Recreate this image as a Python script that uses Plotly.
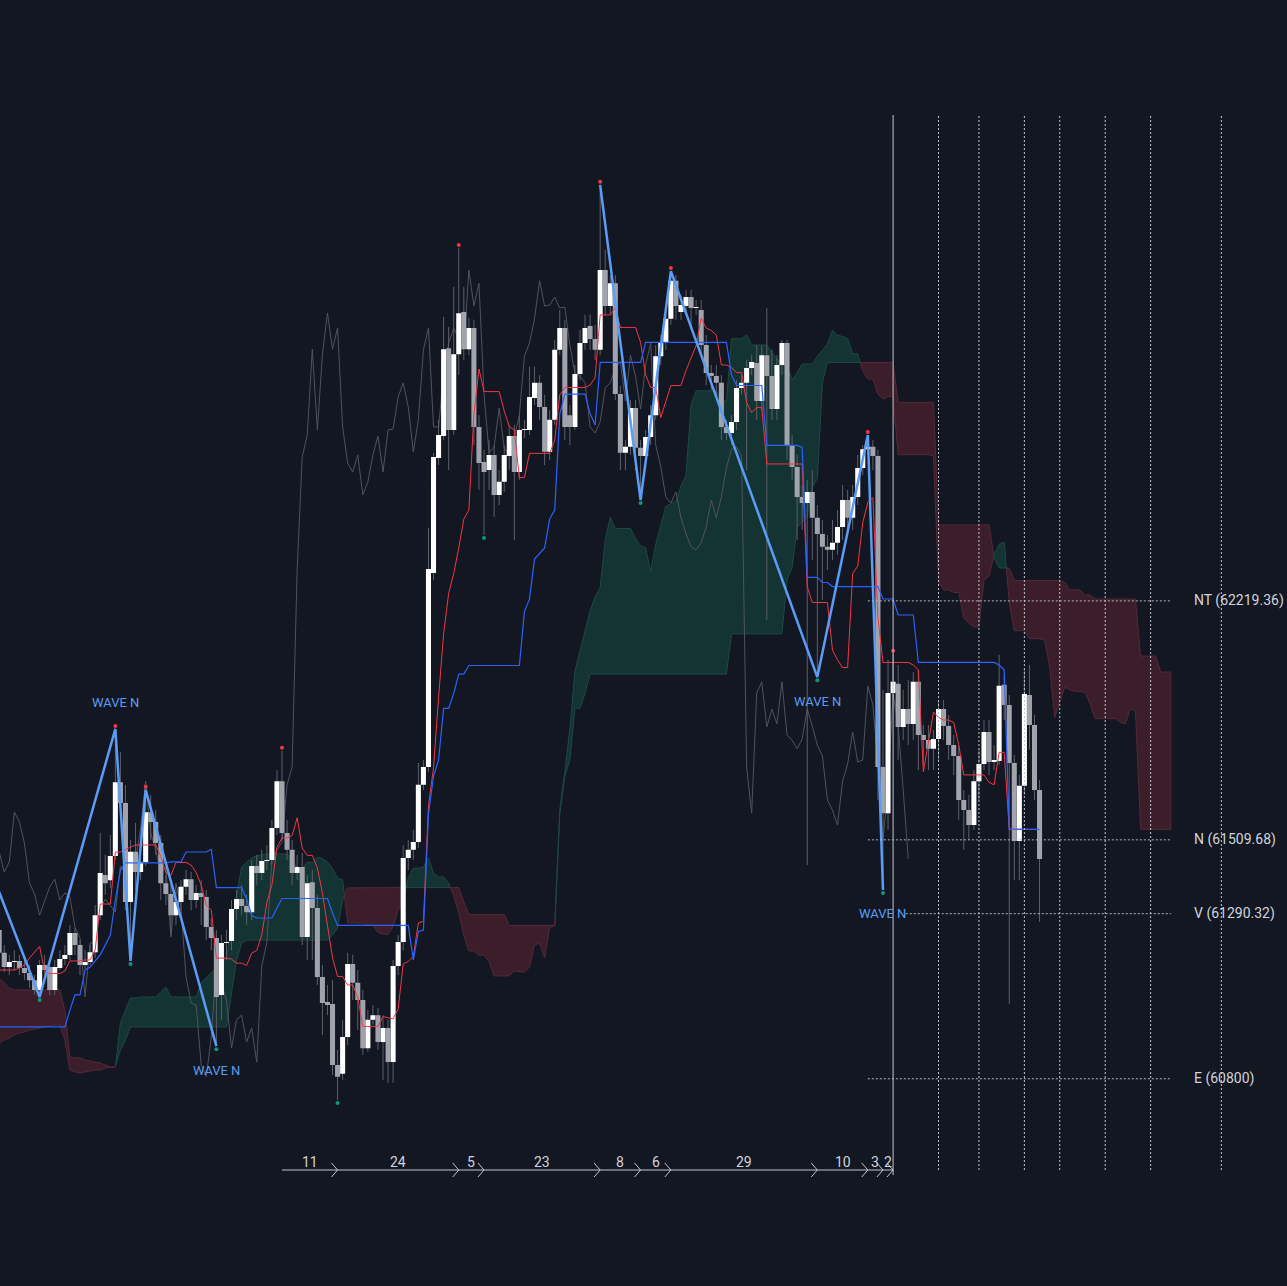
import numpy as np
import pandas as pd
import plotly.graph_objects as go

# ---------------- data (prices) ----------------
opens = [61242,61174,61132,61147,61150,61129,61114,61093,61064,61138,61132,61064,61129,61156,61168,61233,61197,61138,61147,61176,
         61286,61405,61390,61462,61681,61619,61325,61474,61414,61444,61592,61563,61500,61381,61349,61286,61325,61370,61393,61331,
         61352,61340,61251,61218,61049,61203,61209,61304,61334,61313,61295,61432,61411,61447,61450,61545,61684,61530,61480,61411,
         61429,61221,61384,61307,61102,61028,61022,60841,60815,60924,61141,61085,61034,60891,60975,60989,60909,60951,60850,61135,
         61206,61456,61480,61503,61673,61726,62302,62644,62709,62970,62727,62952,63077,62967,63030,62736,62632,62608,62653,62534,
         62573,62650,62709,62602,62727,62727,62822,62867,62795,62662,62757,62965,63030,62771,62736,62893,62985,63036,62997,62965,
         63202,63095,63163,62834,62659,62677,62792,62674,62650,62706,62771,62946,62985,63057,63170,63077,63095,63122,63089,63083,
         62979,62896,62887,62867,62736,62718,62751,62852,62867,62911,62926,62813,62949,62887,62789,62920,62985,62682,62617,62528,
         62510,62543,62466,62418,62380,62371,62392,62439,62519,62466,62528,62614,62670,62677,62650,61726,61589,61946,61973,61845,
         61898,61854,61979,61821,61806,61780,61809,61898,61848,61791,61759,61628,61598,61554,61684,61735,61830,61741,61744,61970,
         61910,61738,61506,61670,61940,61851,61658]
highs = [61343,61197,61168,61182,61168,61153,61138,61108,61153,61168,61153,61153,61182,61197,61257,61248,61212,61182,61197,61316,
         61530,61465,61524,61839,61771,61673,61509,61560,61494,61658,61643,61598,61524,61405,61376,61361,61390,61420,61414,61376,
         61390,61361,61278,61242,61227,61242,61331,61361,61376,61346,61450,61465,61480,61494,61569,61717,61774,61569,61509,61465,
         61471,61405,61420,61346,61138,61079,61093,60886,60975,61174,61168,61123,61064,61004,61019,61010,60989,60975,61153,61227,
         61494,61509,61539,61738,61747,62436,62659,62757,63063,63033,63152,63267,63152,63060,63054,62771,62668,62697,62682,62608,
         62682,62742,62742,62771,62757,62915,62915,62890,62831,62786,62994,63083,63054,62801,62920,63024,63069,63069,63039,63455,
         63262,63187,63187,62858,62697,62816,62816,62697,62727,62801,62979,63009,63098,63199,63187,63128,63143,63143,63113,63113,
         63009,62920,62920,62890,62757,62771,62875,62890,62935,62949,62979,62979,63089,62965,62949,62994,62994,62712,62653,62564,
         62579,62608,62504,62460,62415,62460,62489,62564,62549,62564,62653,62682,62712,62697,62668,61955,62044,62062,62029,61955,
         61985,62008,62014,61851,61851,61836,61925,61925,61881,61821,61791,61658,61643,61717,61777,61866,61866,61791,62059,62000,
         61940,61762,61703,62014,62029,61881,61687]
lows = [61159,61117,61108,61123,61108,61093,61070,61049,61043,61099,61049,61049,61123,61138,61153,61168,61108,61123,61138,61159,
        61271,61346,61367,61450,61604,61301,61150,61361,61390,61432,61509,61465,61331,61316,61227,61257,61301,61346,61301,61307,
        61257,61212,61182,60897,60975,61153,61182,61271,61286,61257,61271,61376,61390,61420,61435,61524,61509,61450,61376,61390,
        61197,61153,61153,61079,60930,60989,60811,60737,60797,60900,61034,60945,60871,60880,60960,60886,60796,60788,60788,61108,
        61182,61420,61450,61486,61658,61711,62281,62623,62697,62608,62712,62890,62935,62949,62682,62549,62415,62549,62469,62504,
        62543,62608,62400,62579,62703,62712,62801,62757,62623,62638,62742,62949,62697,62682,62727,62875,62965,62965,62935,62949,
        63069,63069,62816,62608,62608,62653,62608,62519,62608,62682,62757,62920,62965,63039,63054,63054,63069,63024,63069,62949,
        62860,62846,62831,62697,62697,62682,62727,62831,62608,62890,62757,62786,62163,62757,62757,62890,62638,62579,62400,62430,
        61435,62341,61993,62222,62311,62341,62356,62400,62430,62430,62504,62593,62653,62608,61628,61361,61539,61925,61747,61806,
        61791,61806,61717,61732,61717,61717,61747,61806,61747,61702,61569,61480,61509,61539,61628,61717,61702,61717,61732,61866,
        61022,61390,61390,61643,61777,61628,61266]
closes = [61174,61132,61147,61150,61129,61114,61093,61064,61138,61123,61064,61132,61156,61168,61233,61197,61138,61147,61176,61286,
          61411,61381,61462,61681,61619,61325,61474,61414,61444,61592,61563,61500,61381,61349,61286,61325,61370,61393,61331,61352,
          61340,61251,61218,61043,61203,61206,61304,61334,61313,61295,61432,61411,61447,61450,61545,61684,61530,61480,61411,61429,
          61221,61381,61307,61102,61025,61019,60841,60806,60924,61141,61085,61034,60891,60975,60989,60909,60951,60850,61135,61206,
          61456,61480,61503,61673,61726,62314,62647,62712,62967,62727,62952,63074,62967,63030,62736,62629,62602,62653,62534,62573,
          62653,62709,62602,62727,62730,62825,62867,62795,62662,62757,62965,63030,62736,62736,62893,62985,63030,62997,62965,63202,
          63095,63163,62834,62659,62677,62792,62674,62650,62706,62771,62946,62985,63057,63170,63095,63098,63122,63089,63092,62979,
          62896,62887,62867,62736,62718,62751,62852,62867,62911,62929,62813,62949,62887,62789,62920,62985,62682,62617,62528,62510,
          62543,62466,62418,62380,62371,62392,62439,62519,62466,62528,62614,62670,62677,62650,61726,61589,61946,61979,61845,61898,
          61854,61979,61821,61806,61780,61809,61898,61848,61791,61759,61628,61598,61554,61684,61735,61830,61741,61747,61967,61910,
          61738,61506,61670,61943,61851,61658,61453]

# indicator values before enough history is on screen
tenkan_early = [61123, 61123, 61123, 61123, 61129, 61138, 61159, 61176]
kijun_early = [60954, 60954, 60954, 60954, 60954, 60954, 60954, 60954, 60954, 60954, 60954, 60954, 60954, 60954,
               61004, 61049, 61049, 61123, 61132, 61150, 61168, 61197, 61227, 61331, 61420]
span_a_early = [60906, 60915, 60921, 60930, 60936, 60939, 60945, 60948, 60951, 60954, 60957, 60960, 60960, 60915,
                60826, 60820, 60817, 60820, 60823, 60826, 60826, 60832, 60835, 60835, 60966, 61004, 61040, 61040,
                61043, 61043, 61043, 61043, 61058, 61073, 61043, 61043, 61043, 61043, 61043, 61043, 61085, 61099,
                61114, 61129, 61147, 61162, 61242, 61346, 61429, 61444, 61456, 61462]
span_b_early = [61099, 61085, 61070, 61064, 61064, 61064, 61064, 61064, 61064, 61064, 61064, 61064, 61064,
                61004, 60865, 60862, 60862, 60856, 60853, 60850, 60847, 60841, 60835, 60835, 60886, 60915,
                60954, 60954, 60954, 60954, 60954, 60954, 60954, 60954, 60954, 60954, 60954, 60954, 60954, 60954,
                60954, 60954, 60954, 60954, 60954, 60954,
                61055, 61153, 61203,
                61212, 61212, 61212, 61212, 61212, 61212, 61212, 61212, 61212, 61212, 61212, 61212, 61212, 61212,
                61212, 61212, 61212,
                61227, 61248, 61331,
                61367, 61367, 61367, 61367, 61367, 61367, 61367, 61367, 61367]

# zigzag pivots (bar indices) and their type
pivot_idx = [56, 67, 91, 96, 119, 127, 133, 162, 172, 175, 177]
pivot_kind = ['H', 'L', 'H', 'L', 'H', 'L', 'H', 'L', 'H', 'L', 'H']
left_pivots = [8, 23, 26, 29, 43]
left_kinds = ['L', 'H', 'L', 'H', 'L']
wave_left_start = (-3, 61471)          # pivot just left of the visible window
wave_right = [119, 127, 133, 162, 172, 175]
wave_right_kinds = ['H', 'L', 'H', 'L', 'H', 'L']
wave_labels = [(23, 'H'), (43, 'L'), (162, 'L'), (175, 'L')]

target_names = ['NT', 'N', 'V', 'E']
target_values = [62219.36, 61509.68, 61290.32, 60800]
time_anchor = 177
time_steps = [9, 17, 26, 33, 42, 51, 65]

# ---------------- styles ----------------
BG = '#131722'
UP = '#ffffff'
DOWN = '#a1a4ac'
WICK = '#5d606b'
TENKAN = '#f23645'
KIJUN = '#2962ff'
CHIKOU = '#50535e'
ZZ = '#5b9cf6'
TXT = '#d1d4dc'
G_FILL, G_EDGE = '#133432', '#1c4a45'
R_FILL, R_EDGE = '#3b1e29', '#55283a'
FONT = 'Roboto'
HALF = 0.5   # half body width in bars

n = len(closes)
x = np.arange(n)
o = np.array(opens, float); c = np.array(closes, float)
H = pd.Series(highs, dtype=float); L = pd.Series(lows, dtype=float)

tenkan = ((H.rolling(9).max() + L.rolling(9).min()) / 2).to_numpy()
tenkan[:len(tenkan_early)] = tenkan_early
kijun = ((H.rolling(26).max() + L.rolling(26).min()) / 2).to_numpy()
kijun[:len(kijun_early)] = kijun_early
spanb_calc = ((H.rolling(52).max() + L.rolling(52).min()) / 2).to_numpy()
N = n + 26
A = np.full(N, np.nan); B = np.full(N, np.nan)
A[26:] = (tenkan + kijun) / 2
B[26:] = spanb_calc
A[:len(span_a_early)] = span_a_early
B[:len(span_b_early)] = span_b_early
cx = np.arange(N)

fig = go.Figure()

# ---------------- cloud ----------------
def add_poly(sign, xs, ya, yb):
    px_ = list(xs) + list(xs[::-1])
    py_ = list(ya) + list(yb[::-1])
    fig.add_trace(go.Scatter(x=px_, y=py_, fill='toself', mode='lines',
                             fillcolor=G_FILL if sign > 0 else R_FILL,
                             line=dict(color=G_EDGE if sign > 0 else R_EDGE, width=1),
                             hoverinfo='skip'))

cur_sign = 1 if A[0] - B[0] >= 0 else -1
xs, ya, yb = [cx[0]], [A[0]], [B[0]]
for i in range(1, N):
    d = A[i] - B[i]
    s = cur_sign if d == 0 else (1 if d > 0 else -1)
    if s != cur_sign:
        d0 = A[i-1] - B[i-1]
        t = d0 / (d0 - d)
        xc = cx[i-1] + t; yc = A[i-1] + t * (A[i] - A[i-1])
        xs.append(xc); ya.append(yc); yb.append(yc)
        add_poly(cur_sign, xs, ya, yb)
        xs, ya, yb = [xc], [yc], [yc]
        cur_sign = s
    xs.append(cx[i]); ya.append(A[i]); yb.append(B[i])
add_poly(cur_sign, xs, ya, yb)

# ---------------- chikou ----------------
fig.add_trace(go.Scatter(x=x[26:] - 26, y=c[26:], mode='lines',
                         line=dict(color=CHIKOU, width=1), hoverinfo='skip'))

# ---------------- candles ----------------
wx, wy = [], []
for i in range(n):
    wx += [i, i, None]; wy += [lows[i], highs[i], None]
fig.add_trace(go.Scatter(x=wx, y=wy, mode='lines', line=dict(color=WICK, width=1), hoverinfo='skip'))

def body_trace(mask, color):
    bx, by = [], []
    for i in np.where(mask)[0]:
        lo = min(o[i], c[i]); hi = max(o[i], c[i])
        if hi - lo < 3:
            hi = lo + 3
        bx += [i - HALF, i + HALF, i + HALF, i - HALF, i - HALF, None]
        by += [lo, lo, hi, hi, lo, None]
    fig.add_trace(go.Scatter(x=bx, y=by, mode='lines', fill='toself', fillcolor=color,
                             line=dict(width=0, color=color), hoverinfo='skip'))

up = c >= o
body_trace(up, UP)
body_trace(~up, DOWN)

# ---------------- tenkan / kijun ----------------
fig.add_trace(go.Scatter(x=x, y=tenkan, mode='lines', line=dict(color=TENKAN, width=1), hoverinfo='skip'))
fig.add_trace(go.Scatter(x=x, y=kijun, mode='lines', line=dict(color=KIJUN, width=1.2), hoverinfo='skip'))

# ---------------- zigzag waves ----------------
def pv(k, kind):
    return highs[k] if kind == 'H' else lows[k]

zx = [wave_left_start[0]] + left_pivots
zy = [wave_left_start[1]] + [pv(k, t) for k, t in zip(left_pivots, left_kinds)]
fig.add_trace(go.Scatter(x=zx, y=zy, mode='lines', line=dict(color=ZZ, width=2.5), hoverinfo='skip'))
zx = wave_right
zy = [pv(k, t) for k, t in zip(wave_right, wave_right_kinds)]
fig.add_trace(go.Scatter(x=zx, y=zy, mode='lines', line=dict(color=ZZ, width=2.5), hoverinfo='skip'))

# pivot dots
all_piv = list(zip(left_pivots, left_kinds)) + list(zip(pivot_idx, pivot_kind))
hx = [k for k, t in all_piv if t == 'H']; hy = [highs[k] + 9 for k in hx]
lx = [k for k, t in all_piv if t == 'L']; ly = [lows[k] - 9 for k in lx]
fig.add_trace(go.Scatter(x=hx, y=hy, mode='markers', marker=dict(color=TENKAN, size=4), hoverinfo='skip'))
fig.add_trace(go.Scatter(x=lx, y=ly, mode='markers', marker=dict(color='#089981', size=4), hoverinfo='skip'))

annotations = []
for k, t in wave_labels:
    annotations.append(dict(x=k, y=pv(k, t), text='WAVE N', showarrow=False,
                            yshift=26 if t == 'H' else -24, xanchor='center', yanchor='middle',
                            font=dict(family=FONT, size=13, color=ZZ)))

# ---------------- targets ----------------
shapes = []
for name, v in zip(target_names, target_values):
    x0 = 179.5 if name == 'V' else 172
    shapes.append(dict(type='line', xref='x', yref='y', x0=x0, x1=232, y0=v, y1=v,
                       line=dict(color='#b2b5be', width=1, dash='2px,2px')))
    annotations.append(dict(x=236.2, y=v, text=f'{name} ({v})', showarrow=False,
                            xanchor='left', yanchor='middle',
                            font=dict(family=FONT, size=14, color=TXT)))

# ---------------- time projection lines ----------------
TOP = 1 - 115 / 1286
LINE_Y = 1 - 1170 / 1286
shapes.append(dict(type='line', xref='x', yref='paper', x0=time_anchor, x1=time_anchor,
                   y0=1 - 1175 / 1286, y1=TOP, line=dict(color='#c3c6ce', width=1)))
for s in time_steps:
    shapes.append(dict(type='line', xref='x', yref='paper', x0=time_anchor + s, x1=time_anchor + s,
                       y0=LINE_Y, y1=TOP, line=dict(color='#c3c6ce', width=1, dash='2px,2px')))

# ---------------- bar-count axis ----------------
shapes.append(dict(type='line', xref='x', yref='paper', x0=pivot_idx[0], x1=pivot_idx[-1],
                   y0=LINE_Y, y1=LINE_Y, line=dict(color='#c3c6ce', width=1)))
dy = 7 / 1286
for i in range(1, len(pivot_idx)):
    k = pivot_idx[i]
    shapes.append(dict(type='path', xref='x', yref='paper',
                       path=f'M {k-1.2},{LINE_Y+dy} L {k},{LINE_Y} L {k-1.2},{LINE_Y-dy}',
                       line=dict(color='#c3c6ce', width=1)))
    annotations.append(dict(x=(pivot_idx[i-1] + k) / 2, xref='x', yref='paper', y=1 - 1162 / 1286,
                            text=str(k - pivot_idx[i-1]), showarrow=False, xanchor='center', yanchor='middle',
                            font=dict(family=FONT, size=14, color=TXT)))

fig.update_layout(
    width=1287, height=1286, margin=dict(l=0, r=0, t=0, b=0),
    paper_bgcolor=BG, plot_bgcolor=BG, showlegend=False,
    xaxis=dict(visible=False, range=[0.158, 255.0], fixedrange=True),
    yaxis=dict(visible=False, range=[60184.6, 64004.0], fixedrange=True),
    shapes=shapes, annotations=annotations,
)

fig.write_html("out.html", config={'displayModeBar': False},
               post_script="document.body.style.margin='0';document.body.style.background='#131722';document.body.style.overflow='hidden';")
